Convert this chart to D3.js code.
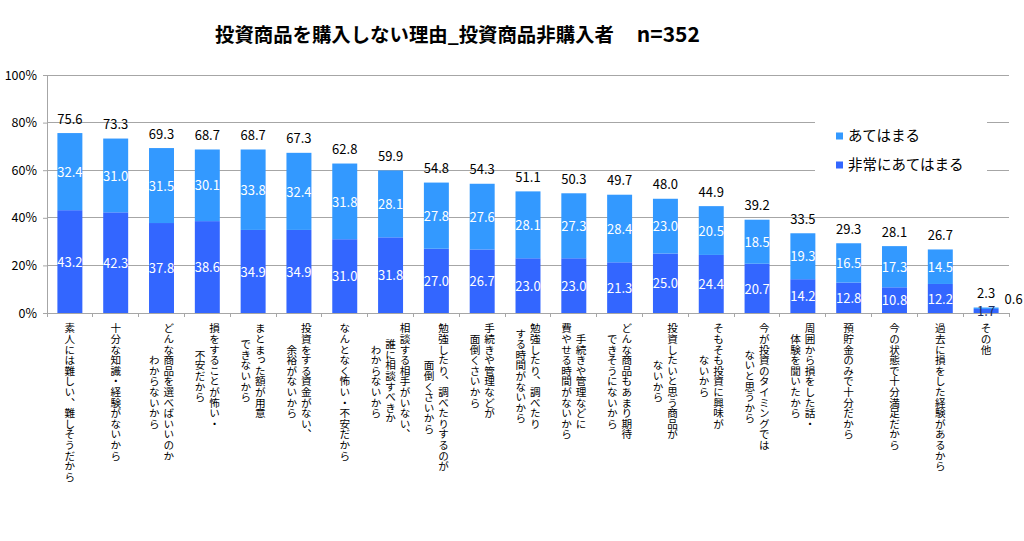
<!DOCTYPE html>
<html><head><meta charset="utf-8">
<script src="https://cdn.jsdelivr.net/npm/d3@7"></script>
<style>
html,body{margin:0;padding:0;background:#fff;}
svg{display:block;font-family:"Noto Sans CJK JP","Noto Sans",sans-serif;}
</style></head>
<body><svg id="c" width="1024" height="541"></svg>
<script>
const titleMain = "投資商品を購入しない理由_投資商品非購入者";
const titleN = "n=352";
const categories = [
  "素人には難しい、難しそうだから",
  "十分な知識・経験がないから",
  "どんな商品を選べばいいのか\nわからないから",
  "損をすることが怖い・\n不安だから",
  "まとまった額が用意\nできないから",
  "投資をする資金がない、\n余裕がないから",
  "なんとなく怖い・不安だから",
  "相談する相手がいない、\n誰に相談すべきか\nわからないから",
  "勉強したり、調べたりするのが\n面倒くさいから",
  "手続きや管理などが\n面倒くさいから",
  "勉強したり、調べたり\nする時間がないから",
  "手続きや管理などに\n費やせる時間がないから",
  "どんな商品もあまり期待\nできそうにないから",
  "投資したいと思う商品が\nないから",
  "そもそも投資に興味が\nないから",
  "今が投資のタイミングでは\nないと思うから",
  "周囲から損をした話・\n体験を聞いたから",
  "預貯金のみで十分だから",
  "今の状態で十分満足だから",
  "過去に損をした経験があるから",
  "その他"
];
const seriesNames = ["非常にあてはまる", "あてはまる"];
const veryMuch = [43.2,42.3,37.8,38.6,34.9,34.9,31.0,31.8,27.0,26.7,23.0,23.0,21.3,25.0,24.4,20.7,14.2,12.8,10.8,12.2,1.7];
const somewhat = [32.4,31.0,31.5,30.1,33.8,32.4,31.8,28.1,27.8,27.6,28.1,27.3,28.4,23.0,20.5,18.5,19.3,16.5,17.3,14.5,0.6];
const totals   = [75.6,73.3,69.3,68.7,68.7,67.3,62.8,59.9,54.8,54.3,51.1,50.3,49.7,48.0,44.9,39.2,33.5,29.3,28.1,26.7,2.3];
const yTicks = [0,20,40,60,80,100];
const colors = ["#3366FF", "#3399FF"];

const svg = d3.select("#c");
const pLeft = 47, pRight = 1009, pTop = 75, pBottom = 313;

const x = d3.scaleBand().domain(d3.range(categories.length)).range([pLeft, pRight]).paddingInner(0.455).paddingOuter(0.227);
const y = d3.scaleLinear().domain([0, 100]).range([pBottom, pTop]);

// title
const t = svg.append("text").attr("x", 215).attr("y", 42)
  .attr("font-size", 19.4).attr("font-weight", 700).attr("fill", "#000");
t.append("tspan").text(titleMain);
t.append("tspan").attr("dx", 23).attr("font-size", 21).text(titleN);

// gridlines
svg.append("g").selectAll("line").data(yTicks.filter(d => d > 0)).join("line")
  .attr("x1", pLeft).attr("x2", pRight).attr("y1", d => y(d)).attr("y2", d => y(d))
  .attr("stroke", "#A6A6A6").attr("stroke-width", 1).attr("shape-rendering", "crispEdges");

// y axis
const yAxis = d3.axisLeft(y).tickValues(yTicks).tickFormat(d => d + "%").tickSize(4).tickPadding(6);
const gy = svg.append("g").attr("transform", `translate(${pLeft},0)`).call(yAxis);
gy.select(".domain").attr("stroke", "#A6A6A6");
gy.selectAll(".tick line").attr("stroke", "#A6A6A6");
gy.selectAll(".tick text").attr("font-size", 12.5).attr("fill", "#000").attr("font-family", "'Noto Sans CJK JP'");

// x axis baseline & ticks
const step = x.step();
const gx = svg.append("g");
gx.append("line").attr("x1", pLeft).attr("x2", pRight).attr("y1", pBottom).attr("y2", pBottom)
  .attr("stroke", "#A6A6A6").attr("shape-rendering", "crispEdges");
gx.selectAll("line.t").data(d3.range(categories.length + 1)).join("line").attr("class", "t")
  .attr("x1", i => pLeft + i * step).attr("x2", i => pLeft + i * step)
  .attr("y1", pBottom).attr("y2", pBottom + 4)
  .attr("stroke", "#A6A6A6").attr("shape-rendering", "crispEdges");

// stacked bars
const rows = categories.map((c, i) => ({i, a: veryMuch[i], b: somewhat[i]}));
const stack = d3.stack().keys(["a", "b"])(rows);
const gb = svg.append("g");
stack.forEach((s, k) => {
  gb.selectAll(null).data(s).join("rect")
    .attr("x", d => x(d.data.i)).attr("width", x.bandwidth())
    .attr("y", d => y(d[1])).attr("height", d => y(d[0]) - y(d[1]))
    .attr("fill", colors[k]);
});

// segment labels
stack.forEach((s, k) => {
  gb.selectAll(null).data(s).join("text")
    .attr("x", d => {
      const h = y(d[0]) - y(d[1]);
      if (k === 1 && h < 10) return x(d.data.i) + x.bandwidth() + 15;
      return x(d.data.i) + x.bandwidth() / 2;
    })
    .attr("y", d => {
      const h = y(d[0]) - y(d[1]);
      if (k === 1 && h < 10) return y(d[1]) - 8;
      return (y(d[0]) + y(d[1])) / 2 + 0.5;
    })
    .attr("dy", "0.36em")
    .attr("text-anchor", "middle").attr("font-size", 13)
    .attr("fill", d => {
      const h = y(d[0]) - y(d[1]);
      if (h < 10) return k === 0 ? "#1F2F5F" : "#000";
      return "#fff";
    })
    .text(d => (d[1] - d[0]).toFixed(1));
});

// totals
gb.selectAll(null).data(rows).join("text")
  .attr("x", d => x(d.i) + x.bandwidth() / 2)
  .attr("y", d => y(totals[d.i]) - 9.5)
  .attr("text-anchor", "middle").attr("font-size", 13).attr("fill", "#000")
  .text(d => totals[d.i].toFixed(1));

// category labels (vertical writing)
const fs = 10.6, colSp = 14.5, labTop = 323;
const gl = svg.append("g");
categories.forEach((c, i) => {
  const lines = c.split("\n");
  const L = d3.max(lines, l => l.length);
  const cx = x(i) + x.bandwidth() / 2;
  const cy = labTop + L * fs / 2;
  lines.forEach((l, j) => {
    gl.append("text")
      .attr("x", cx + ((lines.length - 1) / 2 - j) * colSp)
      .attr("y", cy)
      .attr("text-anchor", "middle")
      .style("writing-mode", "vertical-rl")
      .attr("font-size", fs).attr("fill", "#000")
      .text(l);
  });
});

// legend
const lg = svg.append("g");
lg.append("rect").attr("x", 815).attr("y", 114).attr("width", 172).attr("height", 66).attr("fill", "#fff");
const legendItems = [{name: seriesNames[1], color: colors[1]}, {name: seriesNames[0], color: colors[0]}];
legendItems.forEach((d, j) => {
  const cy = 136 + j * 29;
  lg.append("rect").attr("x", 836).attr("y", cy - 3.5).attr("width", 7).attr("height", 7).attr("fill", d.color);
  lg.append("text").attr("x", 848).attr("y", cy).attr("dy", "0.36em")
    .attr("font-size", 14.5).attr("fill", "#000").text(d.name);
});
</script></body></html>
